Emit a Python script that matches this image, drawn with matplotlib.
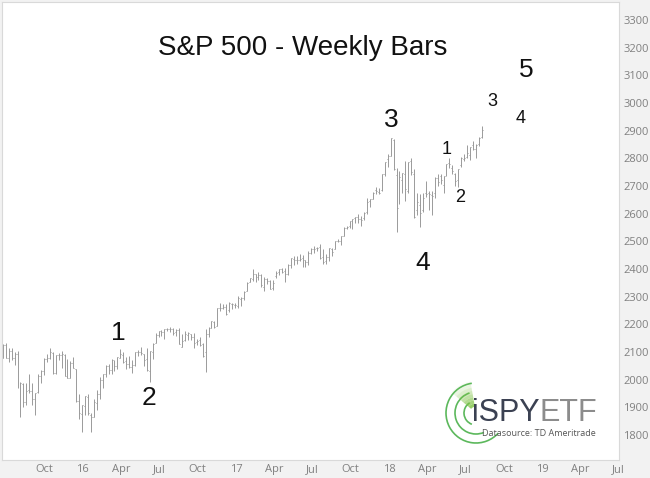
import matplotlib
matplotlib.use("Agg")
import matplotlib.pyplot as plt
import matplotlib.dates as mdates
from matplotlib.patches import Arc, Wedge
import numpy as np
import pandas as pd

# weekly S&P 500 bars, week ending Fri 2015-07-17 .. 2018-08-31
opens = [
    # 2015
    2080, 2126, 2078, 2104, 2078, 2092, 1966, 1986, 1921, 1963, 1960, 1932,
    1954, 2015, 2033, 2075, 2080, 2098, 2023, 2089, 2090, 2091, 2013, 2006,
    # 2016
    2060, 2038, 1924, 1878, 1906, 1936, 1874, 1866, 1917, 1947, 1999, 2019,
    2049, 2037, 2073, 2050, 2079, 2089, 2067, 2057, 2047, 2052, 2100, 2100,
    2092, 2075, 2031, 2101, 2131, 2162, 2174, 2173, 2183, 2183, 2184, 2171,
    2180, 2120, 2143, 2160, 2164, 2154, 2136, 2142, 2129, 2100, 2165, 2186,
    2210, 2196, 2260, 2260, 2263,
    # 2017
    2251, 2273, 2270, 2268, 2290, 2295, 2320, 2352, 2365, 2381, 2371, 2379,
    2335, 2363, 2357, 2332, 2374, 2388, 2400, 2393, 2382, 2416, 2437, 2432,
    2433, 2439, 2431, 2426, 2459, 2473, 2477, 2478, 2444, 2429, 2444, 2474,
    2474, 2503, 2503, 2521, 2547, 2555, 2578, 2583, 2588, 2580, 2583, 2605,
    2645, 2652, 2685, 2679,
    # 2018
    2684, 2745, 2798, 2809, 2867, 2741, 2637, 2722, 2745, 2682, 2790, 2745,
    2615, 2633, 2613, 2676, 2675, 2668, 2675, 2728, 2735, 2705, 2742, 2783,
    2766, 2743, 2723, 2776, 2797, 2804, 2812, 2850, 2835, 2852, 2876,
]
highs = [
    2129, 2133, 2114, 2113, 2102, 2103, 1993, 1987, 1988, 2021, 1989, 1952,
    2021, 2034, 2080, 2094, 2116, 2099, 2089, 2095, 2104, 2093, 2076, 2067,
    2082, 2038, 1950, 1907, 1940, 1947, 1881, 1931, 1962, 2009, 2022, 2052,
    2056, 2075, 2073, 2083, 2111, 2099, 2083, 2085, 2071, 2099, 2106, 2120,
    2092, 2113, 2103, 2131, 2169, 2175, 2178, 2183, 2188, 2190, 2187, 2184,
    2187, 2164, 2175, 2172, 2165, 2169, 2147, 2154, 2131, 2182, 2189, 2214,
    2214, 2260, 2278, 2273, 2273,
    2282, 2279, 2277, 2301, 2300, 2319, 2352, 2368, 2401, 2382, 2390, 2382,
    2371, 2366, 2361, 2361, 2392, 2399, 2404, 2405, 2419, 2440, 2447, 2448,
    2454, 2450, 2434, 2464, 2477, 2484, 2480, 2491, 2474, 2454, 2477, 2475,
    2500, 2509, 2520, 2552, 2557, 2575, 2582, 2588, 2598, 2590, 2605, 2657,
    2652, 2679, 2695, 2692,
    2743, 2787, 2815, 2873, 2870, 2764, 2755, 2748, 2790, 2787, 2802, 2762,
    2675, 2672, 2675, 2718, 2683, 2682, 2732, 2743, 2742, 2736, 2779, 2801,
    2776, 2746, 2763, 2805, 2814, 2848, 2841, 2863, 2853, 2876, 2917,
]
lows = [
    2078, 2077, 2063, 2071, 2052, 1970, 1867, 1903, 1910, 1953, 1908, 1872,
    1951, 1990, 2018, 2063, 2076, 2022, 2020, 2070, 2042, 2012, 2005, 2005,
    2043, 1918, 1857, 1812, 1872, 1872, 1810, 1866, 1891, 1932, 1969, 2010,
    2022, 2022, 2033, 2039, 2077, 2060, 2039, 2043, 2025, 2049, 2085, 2089,
    2050, 2033, 1992, 2075, 2131, 2153, 2159, 2147, 2175, 2172, 2160, 2158,
    2128, 2119, 2139, 2145, 2144, 2114, 2125, 2121, 2084, 2028, 2156, 2186,
    2187, 2194, 2248, 2254, 2234,
    2246, 2255, 2258, 2258, 2267, 2289, 2320, 2352, 2358, 2355, 2361, 2335,
    2322, 2345, 2328, 2323, 2368, 2380, 2385, 2353, 2380, 2403, 2415, 2418,
    2430, 2406, 2407, 2416, 2456, 2459, 2464, 2437, 2417, 2417, 2428, 2446,
    2474, 2496, 2488, 2520, 2543, 2547, 2544, 2566, 2566, 2557, 2577, 2598,
    2625, 2652, 2673, 2673,
    2682, 2736, 2768, 2808, 2759, 2533, 2634, 2676, 2647, 2675, 2741, 2585,
    2594, 2553, 2605, 2660, 2613, 2594, 2655, 2701, 2708, 2676, 2735, 2764,
    2743, 2699, 2698, 2770, 2789, 2800, 2795, 2830, 2802, 2845, 2873,
]
closes = [
    2127, 2079, 2104, 2078, 2092, 1971, 1989, 1921, 1961, 1958, 1931, 1951,
    2015, 2033, 2075, 2079, 2099, 2023, 2089, 2090, 2092, 2012, 2005, 2061,
    2044, 1922, 1880, 1907, 1940, 1880, 1865, 1918, 1948, 2000, 2022, 2050,
    2035, 2073, 2048, 2081, 2092, 2065, 2057, 2047, 2052, 2099, 2099, 2096,
    2071, 2037, 2103, 2130, 2162, 2175, 2174, 2183, 2184, 2184, 2169, 2180,
    2128, 2139, 2165, 2168, 2153, 2133, 2141, 2126, 2085, 2164, 2182, 2213,
    2192, 2260, 2258, 2263, 2239,
    2277, 2275, 2271, 2295, 2297, 2316, 2351, 2367, 2383, 2373, 2378, 2344,
    2363, 2356, 2329, 2349, 2384, 2399, 2391, 2382, 2416, 2439, 2432, 2433,
    2438, 2423, 2425, 2459, 2473, 2472, 2477, 2441, 2426, 2443, 2477, 2461,
    2500, 2502, 2519, 2549, 2553, 2575, 2581, 2588, 2582, 2579, 2602, 2642,
    2652, 2676, 2683, 2674,
    2743, 2786, 2810, 2873, 2762, 2620, 2732, 2747, 2691, 2786, 2752, 2588,
    2641, 2604, 2656, 2670, 2670, 2663, 2728, 2713, 2721, 2735, 2779, 2780,
    2755, 2718, 2760, 2801, 2802, 2819, 2840, 2833, 2850, 2875, 2902,
]

quarters = pd.date_range("2015-10-01", "2019-07-01", freq="QS")
tick_labels = [d.strftime("%y") if d.month == 1 else d.strftime("%b") for d in quarters]

# wave labels: (text, x px, baseline y px, size)
waves = [
    ("1", 118, 340, 19), ("2", 149, 405, 19), ("3", 391, 127, 19),
    ("4", 423, 270, 19), ("5", 526, 77, 19),
    ("1", 447, 154, 13), ("2", 460, 202, 13), ("3", 492, 106, 13),
    ("4", 521, 123, 13),
]

W, H = 650, 478
BAR = "#9a9a9a"
TICK = "#808080"

fig = plt.figure(figsize=(W / 100, H / 100), dpi=100, facecolor="#f2f2f2")
ax = fig.add_axes([2 / W, 18 / H, 617 / W, 458 / H])

dates = pd.date_range("2015-07-17", periods=len(closes), freq="W-FRI")
x = mdates.date2num(dates)
ax.vlines(x, lows, highs, color=BAR, lw=0.7)
ax.hlines(opens, x - 2.3, x, color=BAR, lw=0.7)
ax.hlines(closes, x, x + 2.3, color=BAR, lw=0.7)

ax.set_xlim(mdates.date2num(pd.Timestamp("2015-07-15")),
            mdates.date2num(pd.Timestamp("2019-07-24")))
ax.set_ylim(1710, 3365)

# the source chart draws its month labels about three weeks into the month
ax.set_xticks(mdates.date2num(quarters + pd.Timedelta(days=22)))
ax.set_xticklabels(tick_labels)
ax.yaxis.tick_right()
ax.set_yticks(range(1800, 3301, 100))
ax.tick_params(length=0, labelsize=8, labelcolor=TICK, pad=3)
for lab in ax.get_xticklabels() + ax.get_yticklabels():
    lab.set_family("Open Sans")
for s in ax.spines.values():
    s.set_color("#d9d9d9")
    s.set_linewidth(0.8)


def fxy(px, py):
    return px / W, 1 - py / H


fig.text(*fxy(303, 55), "S&P 500 - Weekly Bars", ha="center", va="baseline",
         fontsize=20, family="Liberation Sans", color="#111111")

for txt, px, py, size in waves:
    fig.text(*fxy(px, py), txt, ha="center", va="baseline", fontsize=size,
             family="Liberation Sans", color="#111111")

# logo
lax = fig.add_axes([440 / W, 1 - 450 / H, 60 / W, 70 / H])
lax.set_xlim(440, 500)
lax.set_ylim(H - 450, H - 380)
lax.axis("off")
cx, cy = 476, H - 413
green = "#5cb85c"
for r, t1, t2 in [(30, 98, 318), (21, 108, 292), (12, 122, 250)]:
    lax.add_patch(Arc((cx, cy), 2 * r, 2 * r, theta1=t1, theta2=t2,
                      color=green, lw=1.2))
for i, a in enumerate(np.linspace(0.05, 0.8, 8)):
    r = 32 - i * 3.2
    lax.add_patch(Wedge((cx, cy), r, 100, 140, width=3.2,
                        color="#7cc242", alpha=a, lw=0))

fig.text(*fxy(472, 421), "iSPY", ha="left", va="baseline", fontsize=22,
         family="Liberation Sans", color="#3b4152")
fig.text(*fxy(540, 421), "ETF", ha="left", va="baseline", fontsize=22,
         family="Liberation Sans", color="#8c8c8c")
fig.text(*fxy(596, 436), "Datasource: TD Ameritrade", ha="right",
         va="baseline", fontsize=6.5, family="Open Sans", color="#555555")

fig.savefig("out.png", dpi=100, facecolor=fig.get_facecolor())
